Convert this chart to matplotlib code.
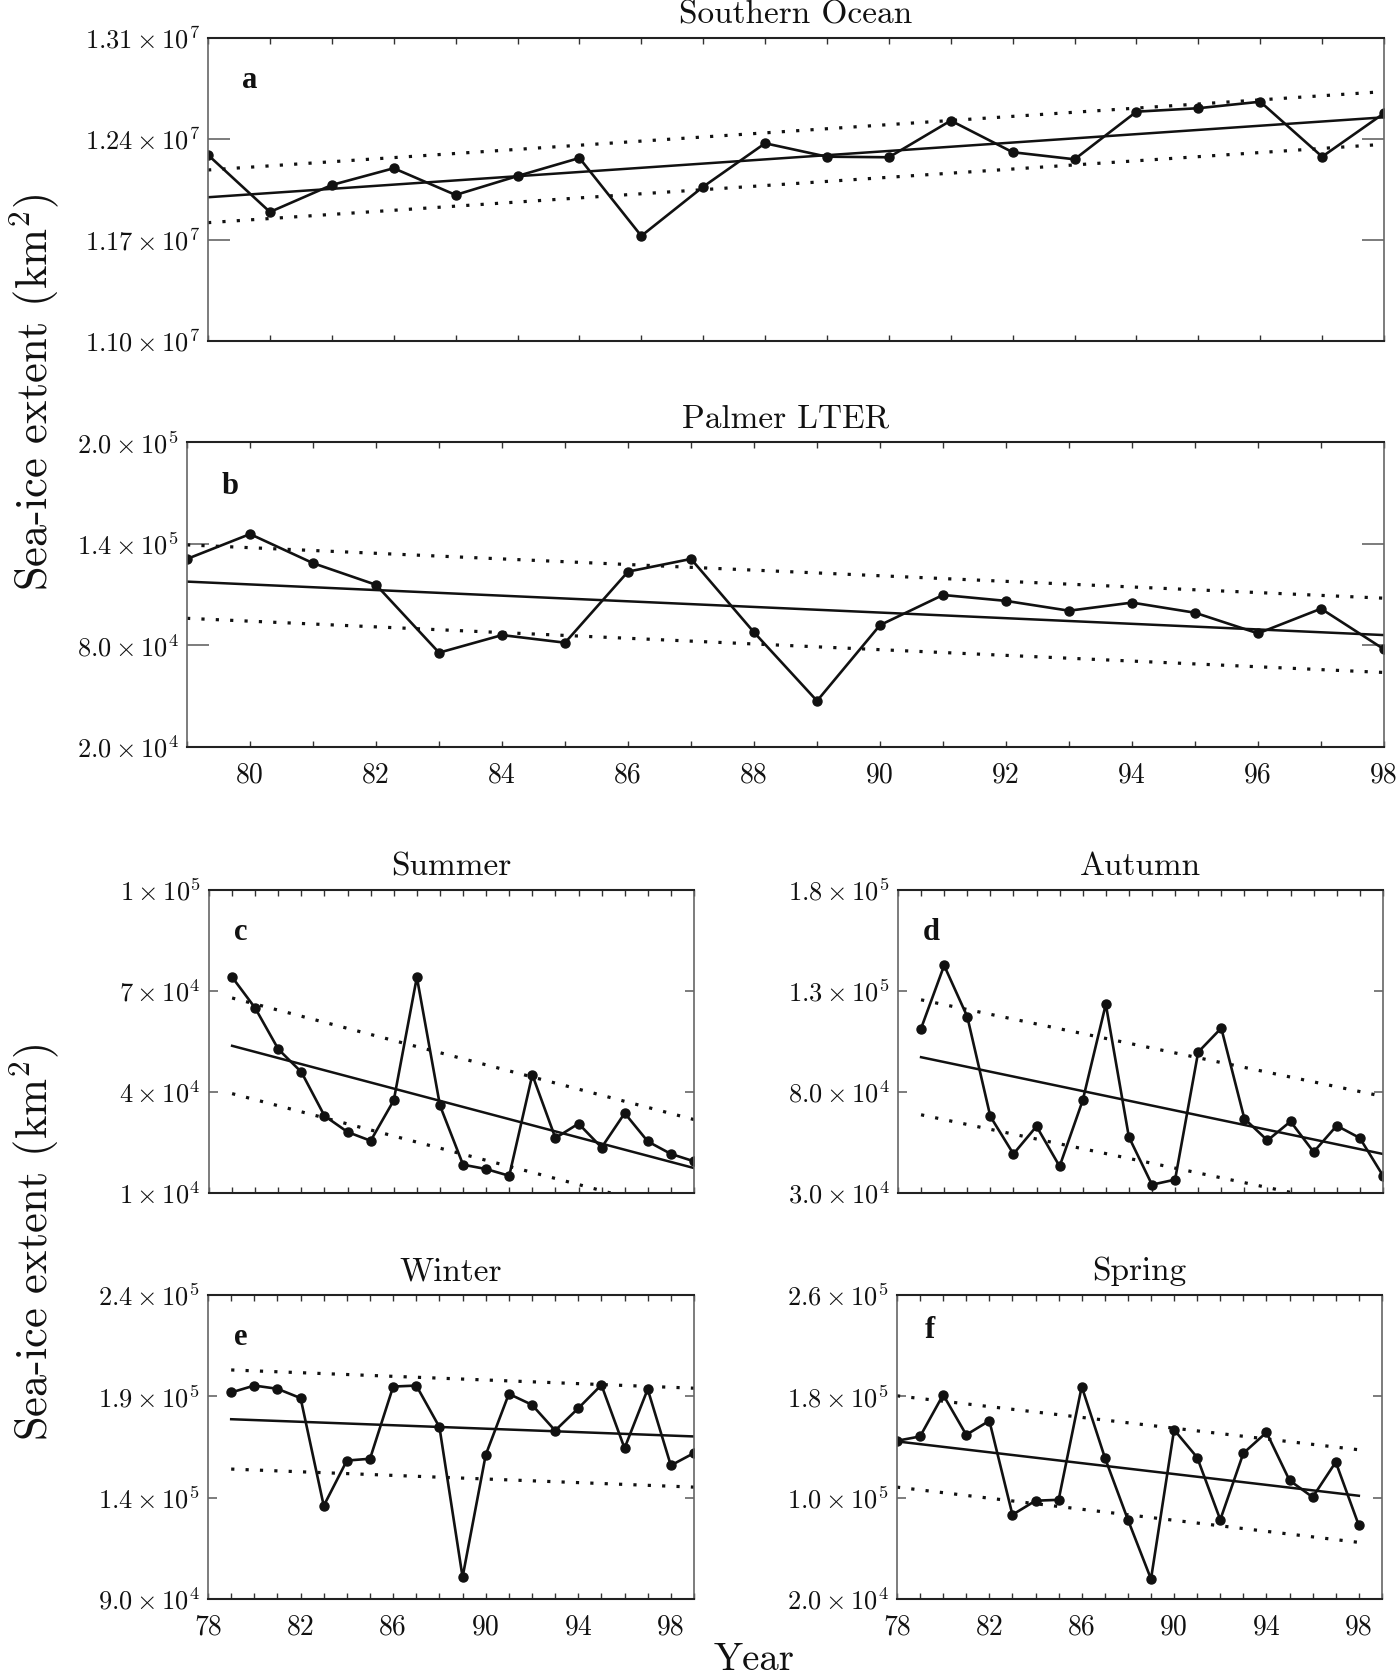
import matplotlib
matplotlib.use('Agg')
import matplotlib.pyplot as plt

plt.rcParams['font.family'] = ['cmr10', 'DejaVu Serif']
plt.rcParams['mathtext.fontset'] = 'cm'
plt.rcParams['axes.unicode_minus'] = False

INK = '#111111'

# ---- data ----
years_ab = list(range(79, 99))
years_cde = list(range(79, 100))
years_f = list(range(78, 99))

southern = [1.2287e7, 1.1892e7, 1.2079e7, 1.2195e7, 1.2010e7, 1.2141e7, 1.2266e7,
            1.1726e7, 1.2067e7, 1.2368e7, 1.2275e7, 1.2271e7, 1.2525e7, 1.2306e7,
            1.2257e7, 1.2587e7, 1.2611e7, 1.2656e7, 1.2275e7, 1.2576e7]
palmer = [1.311e5, 1.458e5, 1.286e5, 1.158e5, 7.57e4, 8.61e4, 8.16e4, 1.236e5,
          1.311e5, 8.77e4, 4.72e4, 9.2e4, 1.098e5, 1.063e5, 1.005e5, 1.053e5,
          9.93e4, 8.71e4, 1.017e5, 7.77e4]
summer = [7.41e4, 6.49e4, 5.27e4, 4.59e4, 3.29e4, 2.81e4, 2.55e4, 3.75e4, 7.41e4,
          3.6e4, 1.84e4, 1.71e4, 1.51e4, 4.51e4, 2.63e4, 3.06e4, 2.35e4, 3.37e4,
          2.53e4, 2.16e4, 1.94e4]
autumn = [1.114e5, 1.426e5, 1.173e5, 6.79e4, 4.93e4, 6.3e4, 4.32e4, 7.58e4,
          1.234e5, 5.77e4, 3.41e4, 3.66e4, 9.97e4, 1.116e5, 6.68e4, 5.6e4,
          6.54e4, 5.03e4, 6.33e4, 5.72e4, 3.86e4]
winter = [1.919e5, 1.953e5, 1.937e5, 1.891e5, 1.36e5, 1.583e5, 1.592e5, 1.948e5,
          1.953e5, 1.748e5, 1.008e5, 1.611e5, 1.912e5, 1.858e5, 1.731e5, 1.841e5,
          1.956e5, 1.644e5, 1.935e5, 1.559e5, 1.62e5]
spring = [1.449e5, 1.483e5, 1.812e5, 1.496e5, 1.607e5, 8.65e4, 9.76e4, 9.83e4,
          1.877e5, 1.317e5, 8.26e4, 3.58e4, 1.536e5, 1.317e5, 8.26e4, 1.351e5,
          1.515e5, 1.136e5, 1.004e5, 1.281e5, 7.81e4]

# trend line and its confidence bounds, values at first and last year
southern_fit = [1.1994e7, 1.2548e7]
southern_hi = [1.2183e7, 1.2726e7]
southern_lo = [1.1818e7, 1.2361e7]
palmer_fit = [1.177e5, 8.61e4]
palmer_hi = [1.394e5, 1.079e5]
palmer_lo = [9.6e4, 6.4e4]
summer_fit = [5.37e4, 1.74e4]
summer_hi = [6.79e4, 3.18e4]
summer_lo = [3.95e4, 0.35e4]
autumn_fit = [9.72e4, 4.93e4]
autumn_hi = [1.256e5, 7.78e4]
autumn_lo = [6.87e4, 2.07e4]
winter_fit = [1.787e5, 1.702e5]
winter_hi = [2.03e5, 1.94e5]
winter_lo = [1.541e5, 1.452e5]
spring_fit = [1.444e5, 1.015e5]
spring_hi = [1.804e5, 1.378e5]
spring_lo = [1.083e5, 6.47e4]

# y ticks and their labels
southern_yt = [1.10e7, 1.17e7, 1.24e7, 1.31e7]
southern_yl = [r'$1.10\times10^{7}$', r'$1.17\times10^{7}$', r'$1.24\times10^{7}$', r'$1.31\times10^{7}$']
palmer_yt = [2.0e4, 8.0e4, 1.4e5, 2.0e5]
palmer_yl = [r'$2.0\times10^{4}$', r'$8.0\times10^{4}$', r'$1.4\times10^{5}$', r'$2.0\times10^{5}$']
summer_yt = [1e4, 4e4, 7e4, 1e5]
summer_yl = [r'$1\times10^{4}$', r'$4\times10^{4}$', r'$7\times10^{4}$', r'$1\times10^{5}$']
autumn_yt = [3.0e4, 8.0e4, 1.3e5, 1.8e5]
autumn_yl = [r'$3.0\times10^{4}$', r'$8.0\times10^{4}$', r'$1.3\times10^{5}$', r'$1.8\times10^{5}$']
winter_yt = [9.0e4, 1.4e5, 1.9e5, 2.4e5]
winter_yl = [r'$9.0\times10^{4}$', r'$1.4\times10^{5}$', r'$1.9\times10^{5}$', r'$2.4\times10^{5}$']
spring_yt = [2.0e4, 1.0e5, 1.8e5, 2.6e5]
spring_yl = [r'$2.0\times10^{4}$', r'$1.0\times10^{5}$', r'$1.8\times10^{5}$', r'$2.6\times10^{5}$']

top_xlabels = [80, 82, 84, 86, 88, 90, 92, 94, 96, 98]
season_xlabels = [78, 82, 86, 90, 94, 98]


def panel(rect, years, vals, fit, hi, lo, yt, yl, xlim, title, letter, lpos,
          ylen, xlabels=None):
    ax = fig.add_axes(rect)
    ends = [years[0], years[-1]]
    ax.plot(ends, hi, color=INK, lw=2.3, linestyle=(0, (1, 3.5)))
    ax.plot(ends, lo, color=INK, lw=2.3, linestyle=(0, (1, 3.5)))
    ax.plot(ends, fit, color=INK, lw=1.8)
    ax.plot(years, vals, color=INK, lw=1.9, marker='o', ms=6.5)
    ax.set_xlim(*xlim)
    ax.set_ylim(yt[0], yt[-1])
    ax.set_yticks(yt)
    ax.set_yticklabels(yl, fontsize=19, color=INK)
    allyears = list(range(xlim[0], xlim[1] + 1))
    if xlabels is None:
        ax.set_xticks(allyears)
        ax.tick_params(axis='x', labelbottom=False)
    else:
        ax.set_xticks(xlabels)
        ax.set_xticklabels([str(v) for v in xlabels], fontsize=20, color=INK)
        ax.set_xticks(allyears, minor=True)
    ax.tick_params(axis='x', which='both', direction='in', top=True, bottom=True,
                   length=4, width=1.0, color='#333333', pad=11)
    ax.tick_params(axis='y', direction='in', left=True, right=True,
                   length=ylen, width=1.2, color='#666666', pad=6)
    for s in ['top', 'bottom']:
        ax.spines[s].set_linewidth(1.5)
        ax.spines[s].set_color('#222222')
    for s in ['left', 'right']:
        ax.spines[s].set_linewidth(1.2)
        ax.spines[s].set_color('#666666')
    ax.set_title(title, fontsize=24, color=INK, pad=10.5)
    ax.text(lpos[0], lpos[1], letter, transform=ax.transAxes, fontsize=22,
            fontfamily='Liberation Serif', fontweight='bold', color=INK,
            ha='left', va='baseline')
    return ax


fig = plt.figure(figsize=(14, 16.8), dpi=100)

panel([0.1486, 0.7972, 0.8400, 0.1804], years_ab, southern, southern_fit, southern_hi,
      southern_lo, southern_yt, southern_yl, (79, 98), 'Southern Ocean', 'a',
      (0.029, 0.834), 16)
panel([0.1336, 0.5554, 0.8550, 0.1813], years_ab, palmer, palmer_fit, palmer_hi,
      palmer_lo, palmer_yt, palmer_yl, (79, 98), 'Palmer LTER', 'b',
      (0.029, 0.831), 16, top_xlabels)
panel([0.1493, 0.2899, 0.3464, 0.1804], years_cde, summer, summer_fit, summer_hi,
      summer_lo, summer_yt, summer_yl, (78, 99), 'Summer', 'c', (0.052, 0.835), 6.5)
panel([0.6414, 0.2899, 0.3464, 0.1804], years_cde, autumn, autumn_fit, autumn_hi,
      autumn_lo, autumn_yt, autumn_yl, (78, 99), 'Autumn', 'd', (0.052, 0.835), 6.5)
panel([0.1486, 0.0482, 0.3471, 0.1810], years_cde, winter, winter_fit, winter_hi,
      winter_lo, winter_yt, winter_yl, (78, 99), 'Winter', 'e', (0.053, 0.836), 6.5,
      season_xlabels)
panel([0.6407, 0.0482, 0.3464, 0.1810], years_f, spring, spring_fit, spring_hi,
      spring_lo, spring_yt, spring_yl, (78, 99), 'Spring', 'f', (0.058, 0.859), 6.5,
      season_xlabels)

fig.text(0.024, 0.7667, r'Sea-ice extent (km$^2$)', rotation=90, fontsize=32,
         color=INK, ha='center', va='center')
fig.text(0.024, 0.2607, r'Sea-ice extent (km$^2$)', rotation=90, fontsize=32,
         color=INK, ha='center', va='center')
fig.text(0.539, 0.001, 'Year', fontsize=28, color=INK, ha='center', va='bottom')

fig.savefig('out.png', dpi=100)
